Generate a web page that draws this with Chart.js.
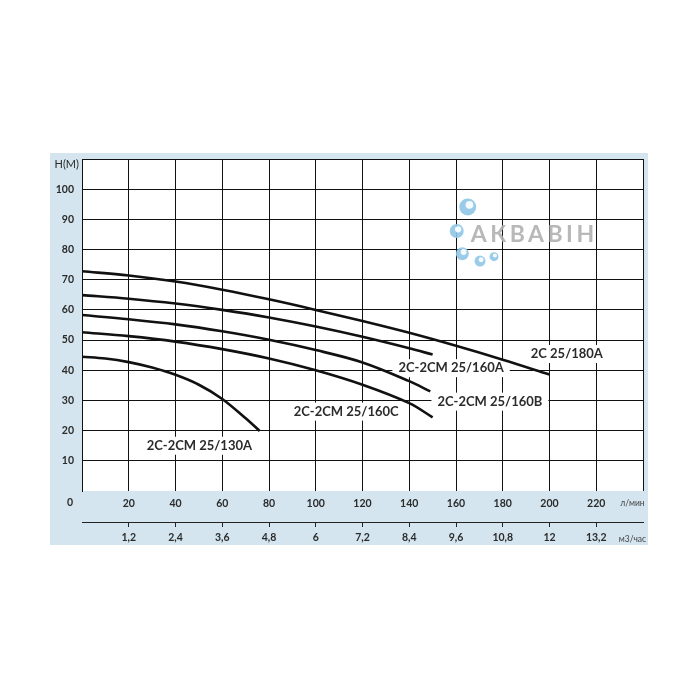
<!DOCTYPE html>
<html lang="ru">
<head>
    <meta charset="UTF-8">
    <title>Pump curves</title>
    <script src="https://cdn.jsdelivr.net/npm/chart.js@4"></script>
    <style>
        body { margin: 0; background: #fff; }
        #wrap { width: 700px; height: 700px; }
    </style>
</head>
<body>
    <div id="wrap"><canvas id="pumpChart" width="700" height="700"></canvas></div>

    <script>
        // flow in l/min, head in m
        const flow180A = [0, 20, 40, 60, 80, 100, 120, 140, 160, 180, 200];
        const head180A = [72.8, 71.4, 69.4, 66.7, 63.5, 60.0, 56.3, 52.4, 48.1, 43.5, 38.6];

        const flow160A = [0, 20, 40, 60, 80, 100, 120, 140, 150];
        const head160A = [64.9, 63.7, 62.1, 60.0, 57.5, 54.5, 51.1, 47.3, 45.2];

        const flow160B = [0, 20, 40, 60, 80, 100, 120, 140, 149];
        const head160B = [58.3, 56.9, 55.2, 52.9, 50.1, 46.7, 42.6, 36.4, 33.0];

        const flow160C = [0, 20, 40, 60, 80, 100, 120, 140, 150];
        const head160C = [52.6, 51.3, 49.5, 47.0, 43.9, 40.0, 35.2, 29.1, 24.4];

        const flow130A = [0, 10, 20, 30, 40, 50, 60, 70, 76];
        const head130A = [44.5, 43.9, 42.7, 40.9, 38.5, 35.2, 30.5, 24.1, 19.9];

        const curveNames = ['2C 25/180A', '2C-2CM 25/160A', '2C-2CM 25/160B', '2C-2CM 25/160C', '2C-2CM 25/130A'];
        // where each name sits, in data units (l/min, m)
        const labelX = [207.4, 157.9, 174.5, 113, 50.2];
        const labelY = [45.4, 40.7, 29.6, 26.3, 15.0];

        const lpmTicks = [20, 40, 60, 80, 100, 120, 140, 160, 180, 200, 220];
        const m3hTicks = ['1,2', '2,4', '3,6', '4,8', '6', '7,2', '8,4', '9,6', '10,8', '12', '13,2'];
        const headTicks = [10, 20, 30, 40, 50, 60, 70, 80, 90, 100];

        const toPoints = (xs, ys) => xs.map((x, i) => ({ x: x, y: ys[i] }));

        const tickFont = { family: 'Lato', size: 10.5, weight: 'bold' };
        const ink = '#2b2b2b';

        // light blue panel + white plot area, texts and logo
        const decorPlugin = {
            id: 'decor',
            beforeDraw(chart) {
                const ctx = chart.ctx;
                const a = chart.chartArea;
                const y = chart.scales.y;
                const x2 = chart.scales.x2;
                ctx.save();
                ctx.fillStyle = '#d4e5ef';
                ctx.fillRect(y.left, a.top - 6, a.right + 5 - y.left, x2.bottom - (a.top - 6));
                ctx.fillStyle = '#ffffff';
                ctx.fillRect(a.left, a.top, a.right - a.left, a.bottom - a.top);
                ctx.restore();
            },
            beforeDatasetsDraw(chart) {
                const ctx = chart.ctx;
                const xs = chart.scales.x;
                const ys = chart.scales.y;
                ctx.save();

                // watermark
                const lx = xs.getPixelForValue(166.3);
                const ly = ys.getPixelForValue(84.8);
                ctx.globalAlpha = 0.9;
                ctx.fillStyle = '#b0b0b0';
                ctx.font = 'bold 23px Lato';
                ctx.letterSpacing = '3.5px';
                ctx.textAlign = 'left';
                ctx.textBaseline = 'middle';
                ctx.fillText('АКВАВІН', lx, ly);
                ctx.letterSpacing = '0px';
                const bubbles = [[-3, -28, 8.5], [-14, -4, 7], [-8.4, 18.6, 6.5], [9.3, 26, 5.5], [23.3, 21.6, 4.5]];
                bubbles.forEach(b => {
                    ctx.beginPath();
                    ctx.arc(lx + b[0], ly + b[1], b[2], 0, Math.PI * 2);
                    ctx.fillStyle = '#8fc6e8';
                    ctx.fill();
                    ctx.beginPath();
                    ctx.arc(lx + b[0] + b[2] * 0.2, ly + b[1] - b[2] * 0.25, b[2] * 0.45, 0, Math.PI * 2);
                    ctx.fillStyle = '#ffffff';
                    ctx.fill();
                });
                ctx.globalAlpha = 1;

                // curve names on white boxes
                ctx.font = 'bold 13px Lato';
                ctx.textAlign = 'center';
                ctx.textBaseline = 'middle';
                curveNames.forEach((name, i) => {
                    const px = xs.getPixelForValue(labelX[i]);
                    const py = ys.getPixelForValue(labelY[i]);
                    const w = ctx.measureText(name).width;
                    ctx.fillStyle = '#ffffff';
                    ctx.fillRect(px - w / 2 - 6, py - 9, w + 12, 18);
                    ctx.fillStyle = ink;
                    ctx.fillText(name, px, py);
                });
                ctx.restore();
            },
            afterDraw(chart) {
                const ctx = chart.ctx;
                const xs = chart.scales.x;
                const ys = chart.scales.y;
                const x2 = chart.scales.x2;
                ctx.save();
                ctx.fillStyle = ink;
                ctx.textBaseline = 'middle';

                ctx.font = 'bold 10.5px Lato';
                ctx.textAlign = 'center';
                ctx.fillText('0', xs.left - 12, ys.bottom + 12);

                ctx.font = '11px Lato';
                ctx.textAlign = 'right';
                ctx.fillText('H(M)', xs.left - 3, ys.top + 5);

                ctx.font = '8.5px Lato';
                ctx.textAlign = 'center';
                ctx.fillStyle = '#444';
                ctx.fillText('л/мин', xs.getPixelForValue(235.5), ys.bottom + 12);
                ctx.fillText('м3/час', xs.getPixelForValue(235.5), x2.top + 17);
                ctx.restore();
            }
        };

        const makeCurve = (label, xs, ys) => ({
            label: label,
            data: toPoints(xs, ys),
            xAxisID: 'x',
            yAxisID: 'y',
            borderColor: '#111',
            borderWidth: 2.6,
            pointRadius: 0,
            fill: false,
            tension: 0.35
        });

        const ctx = document.getElementById('pumpChart').getContext('2d');
        new Chart(ctx, {
            type: 'line',
            data: {
                datasets: [
                    makeCurve(curveNames[0], flow180A, head180A),
                    makeCurve(curveNames[1], flow160A, head160A),
                    makeCurve(curveNames[2], flow160B, head160B),
                    makeCurve(curveNames[3], flow160C, head160C),
                    makeCurve(curveNames[4], flow130A, head130A)
                ]
            },
            options: {
                responsive: false,
                animation: false,
                devicePixelRatio: 1,
                layout: { padding: { left: 50, right: 57, top: 159, bottom: 155 } },
                plugins: {
                    legend: { display: false },
                    tooltip: { enabled: false },
                    title: { display: false }
                },
                scales: {
                    x: {
                        type: 'linear',
                        position: 'bottom',
                        weight: 0,
                        min: 0,
                        max: 240,
                        border: { display: false },
                        grid: { color: '#111', lineWidth: 1, drawTicks: false },
                        ticks: {
                            stepSize: 20,
                            padding: 6,
                            maxRotation: 0,
                            autoSkip: false,
                            color: ink,
                            font: tickFont,
                            callback: v => lpmTicks.includes(v) ? String(v) : ''
                        },
                        afterFit: s => { s.height = 31; }
                    },
                    x2: {
                        type: 'linear',
                        position: 'bottom',
                        weight: 1,
                        min: 0,
                        max: 240,
                        border: { display: true, color: '#222', width: 1 },
                        grid: {
                            drawOnChartArea: false,
                            drawTicks: true,
                            tickLength: 5,
                            color: c => lpmTicks.includes(c.tick && c.tick.value) ? '#222' : 'rgba(0,0,0,0)'
                        },
                        ticks: {
                            stepSize: 20,
                            padding: 4,
                            maxRotation: 0,
                            autoSkip: false,
                            color: ink,
                            font: tickFont,
                            callback: v => {
                                const i = lpmTicks.indexOf(v);
                                return i < 0 ? '' : m3hTicks[i];
                            }
                        },
                        afterFit: s => { s.height = 23; }
                    },
                    y: {
                        type: 'linear',
                        min: 0,
                        max: 110,
                        border: { display: true, color: '#111', width: 1 },
                        grid: {
                            drawTicks: false,
                            lineWidth: 1,
                            color: c => (c.tick && c.tick.value === 0) ? 'rgba(0,0,0,0)' : '#111'
                        },
                        ticks: {
                            stepSize: 10,
                            padding: 8,
                            color: ink,
                            font: tickFont,
                            callback: v => headTicks.includes(v) ? String(v) : ''
                        },
                        afterFit: s => { s.width = 32; }
                    }
                }
            },
            plugins: [decorPlugin]
        });
    </script>
</body>
</html>
